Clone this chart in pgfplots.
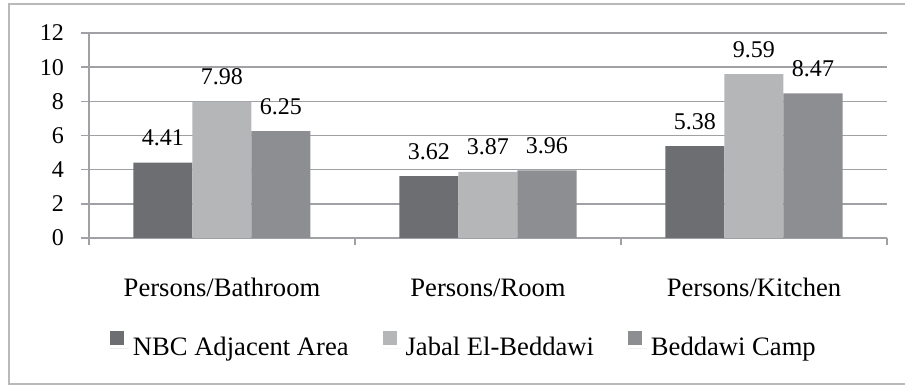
\documentclass[border=0pt]{standalone}
\usepackage{fontspec}
\setmainfont{Liberation Serif}
\newfontfamily\lib{Liberation Serif}
\usepackage{pgfplots}
\pgfplotsset{compat=1.18}
\definecolor{cA}{RGB}{109,110,114}
\definecolor{cB}{RGB}{180,182,184}
\definecolor{cC}{RGB}{141,142,146}
\definecolor{gridc}{RGB}{160,161,164}
\definecolor{framec}{RGB}{185,185,185}
\begin{document}
\begin{tikzpicture}
\useasboundingbox (-44.5pt,-73.5pt) rectangle (408pt,119pt);
\draw[framec,line width=0.7pt] (410pt,117pt) -- (-40pt,117pt) -- (-40pt,-73pt) -- (410pt,-73pt);
\begin{axis}[
 at={(0,0)}, anchor=south west,
 width=399pt, height=102.5pt, scale only axis,
 ybar=0pt, bar width=29.5pt,
 xmin=-0.5, xmax=2.5, ymin=0, ymax=12,
 axis lines=left, axis line style={-, draw=gridc, line width=0.7pt},
 ytick={0,2,...,12},
 yticklabel={\pgfmathprintnumber[assume math mode=true]{\tick}},
 ymajorgrids, grid style={draw=gridc, line width=0.7pt},
 xtick={0,1,2}, xticklabels={Persons/Bathroom,Persons/Room,Persons/Kitchen},
 major x tick style={draw=none},
 minor xtick={-0.5,0.5,1.5,2.5},
 minor x tick style={draw=gridc, line width=0.7pt},
 y tick style={draw=gridc, line width=0.7pt},
 tick align=outside, major tick length=4pt, minor tick length=3.5pt,
 yticklabel style={font=\lib\fontsize{12}{14}\selectfont, anchor=east, xshift=-5pt},
 xticklabel style={font=\lib\fontsize{13.3}{15}\selectfont, anchor=base, yshift=-25.5pt},
 nodes near coords={\pgfmathprintnumber[fixed,fixed zerofill,precision=2,assume math mode=true]{\pgfplotspointmeta}},
 nodes near coords style={font=\lib\fontsize{12}{14}\selectfont, anchor=base, yshift=8.5pt},
 legend columns=3,
 legend style={draw=none, fill=none, at={(0.471,-0.532)}, anchor=center,
   font=\lib\fontsize{13.3}{15}\selectfont,
   /tikz/every even column/.append style={column sep=15pt}},
]
\addplot[fill=cA, draw=none, legend image code/.code={\fill[cA] (0pt,1.8pt) rectangle (7pt,8.5pt); \path (0pt,0pt) -- (9.5pt,0pt);}]
 coordinates {(0,4.41) (1,3.62) (2,5.38)};
\addplot[fill=cB, draw=none, legend image code/.code={\fill[cB] (0pt,1.8pt) rectangle (7pt,8.5pt); \path (0pt,0pt) -- (9.5pt,0pt);}]
 coordinates {(0,7.98) (1,3.87) (2,9.59)};
\addplot[fill=cC, draw=none, legend image code/.code={\fill[cC] (0pt,1.8pt) rectangle (7pt,8.5pt); \path (0pt,0pt) -- (9.5pt,0pt);}]
 coordinates {(0,6.25) (1,3.96) (2,8.47)};
\legend{NBC Adjacent Area, Jabal El-Beddawi, Beddawi Camp}
\end{axis}
\end{tikzpicture}
\end{document}
